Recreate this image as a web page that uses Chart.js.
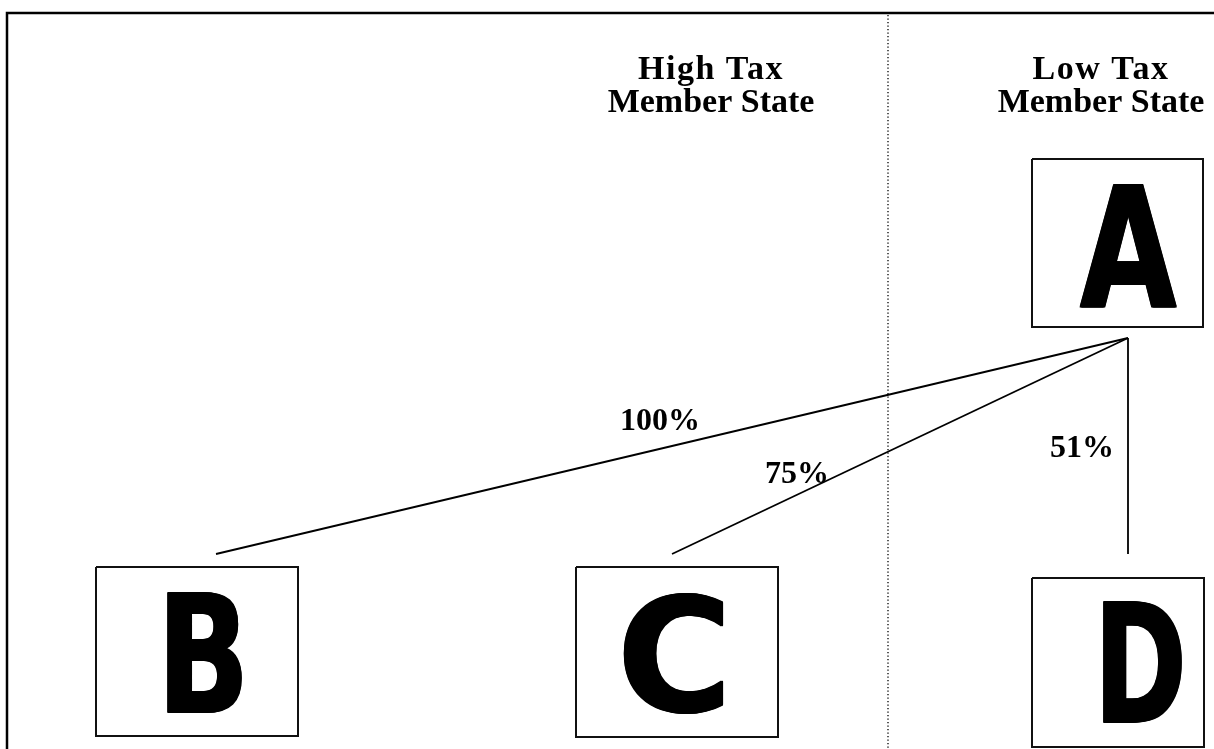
<!DOCTYPE html>
<html>
<head>
<meta charset="utf-8">
<script src="https://cdn.jsdelivr.net/npm/chart.js@4.4.1/dist/chart.umd.min.js"></script>
<style>
html,body{margin:0;padding:0;background:#fff;}
#wrap{width:1214px;height:749px;position:relative;}
</style>
</head>
<body>
<div id="wrap"><canvas id="c"></canvas></div>
<script>
// ---- Data (diagram coordinates, y grows downward) ----
const nodeNames = ['A', 'B', 'C', 'D'];
const nodeLeft   = [1032,  96, 576, 1032];
const nodeRight  = [1203, 298, 778, 1204];
const nodeTop    = [159, 567, 567, 578];
const nodeBottom = [327, 736, 737, 747];
const letterLeft   = [1079, 167, 623, 1103];
const letterRight  = [1177, 242, 723, 1182];
const letterTop    = [184, 592, 592, 601];
const letterBottom = [307, 713, 714, 723];

const linkFrom = ['A', 'A', 'A'];
const linkTo = ['B', 'C', 'D'];
const linkStartX = [1128, 1128, 1128];
const linkStartY = [338, 338, 338];
const linkEndX = [216, 672, 1128];
const linkEndY = [554, 554, 554];
const linkLabels = ['100%', '75%', '51%'];
const linkLabelX = [660, 797, 1082];
const linkLabelY = [430, 483, 457];

const regionTitles = [['High Tax', 'Member State'], ['Low Tax', 'Member State']];
const regionTitleX = [711, 1101];
const regionTitleY = [79, 112];
const dividerX = 888;
const frameLeft = 7, frameTop = 13;
const xMin = 0, xMax = 1214, yMin = 0, yMax = 749;

// ---- Build datasets ----
const datasets = [];
datasets.push({
  data: [{x: frameLeft, y: yMax + 5}, {x: frameLeft, y: frameTop}, {x: xMax + 5, y: frameTop}],
  borderColor: '#000', borderWidth: 2.5, pointRadius: 0, showLine: true, fill: false
});
datasets.push({
  data: [{x: dividerX, y: frameTop + 2}, {x: dividerX, y: yMax + 5}],
  borderColor: '#000', borderWidth: 1.3, borderDash: [1.3, 2.2], pointRadius: 0, showLine: true, fill: false
});
nodeNames.forEach((n, i) => {
  datasets.push({
    label: 'box ' + n,
    data: [
      {x: nodeLeft[i], y: nodeTop[i]}, {x: nodeRight[i], y: nodeTop[i]},
      {x: nodeRight[i], y: nodeBottom[i]}, {x: nodeLeft[i], y: nodeBottom[i]},
      {x: nodeLeft[i], y: nodeTop[i]}
    ],
    borderColor: '#111', borderWidth: 2, pointRadius: 0, showLine: true, fill: false,
    borderJoinStyle: 'miter'
  });
});
linkTo.forEach((n, i) => {
  datasets.push({
    label: linkFrom[i] + '-' + n,
    data: [{x: linkStartX[i], y: linkStartY[i]}, {x: linkEndX[i], y: linkEndY[i]}],
    borderColor: '#000', borderWidth: 1.8, pointRadius: 0, showLine: true, fill: false
  });
});

// ---- Text plugin ----
const textPlugin = {
  id: 'diagramText',
  afterDatasetsDraw(chart) {
    const ctx = chart.ctx;
    const X = v => chart.scales.x.getPixelForValue(v);
    const Y = v => chart.scales.y.getPixelForValue(v);
    ctx.save();
    ctx.fillStyle = '#000';
    ctx.textAlign = 'center';
    ctx.textBaseline = 'alphabetic';
    regionTitles.forEach((lines, i) => {
      lines.forEach((t, j) => {
        ctx.font = "bold 34px 'Liberation Serif'";
        ctx.letterSpacing = j === 0 ? '1.5px' : '0px';
        ctx.fillText(t, X(regionTitleX[i]), Y(regionTitleY[j]));
      });
    });
    ctx.letterSpacing = '0px';
    ctx.font = "bold 32px 'Liberation Serif'";
    linkLabels.forEach((t, i) => ctx.fillText(t, X(linkLabelX[i]), Y(linkLabelY[i])));
    // node letters fitted into their measured boxes
    const th = 2, tv = 1;
    nodeNames.forEach((n, i) => {
      const x0 = X(letterLeft[i]), x1 = X(letterRight[i]);
      const y0 = Y(letterTop[i]), y1 = Y(letterBottom[i]);
      ctx.font = "bold 200px 'DejaVu Sans'";
      ctx.textAlign = 'left';
      ctx.textBaseline = 'alphabetic';
      const m = ctx.measureText(n);
      const gw = m.actualBoundingBoxLeft + m.actualBoundingBoxRight;
      const gh = m.actualBoundingBoxAscent + m.actualBoundingBoxDescent;
      const sx = (x1 - x0 - th) / gw;
      const sy = (y1 - y0 - tv) / gh;
      for (let dx = 0; dx <= th; dx += 1) {
        for (let dy = 0; dy <= tv; dy += 1) {
          ctx.save();
          ctx.translate(x0 + dx, y0 + dy);
          ctx.scale(sx, sy);
          ctx.fillText(n, m.actualBoundingBoxLeft, m.actualBoundingBoxAscent);
          ctx.restore();
        }
      }
    });
    ctx.restore();
  }
};

new Chart(document.getElementById('c'), {
  type: 'scatter',
  data: { datasets },
  options: {
    responsive: true,
    maintainAspectRatio: false,
    animation: false,
    devicePixelRatio: 1,
    layout: { padding: 0 },
    plugins: { legend: { display: false }, tooltip: { enabled: false } },
    scales: {
      x: { type: 'linear', min: xMin, max: xMax, display: false },
      y: { type: 'linear', min: yMin, max: yMax, reverse: true, display: false }
    },
    elements: { line: { tension: 0, borderCapStyle: 'butt' } }
  },
  plugins: [textPlugin]
});
</script>
</body>
</html>
